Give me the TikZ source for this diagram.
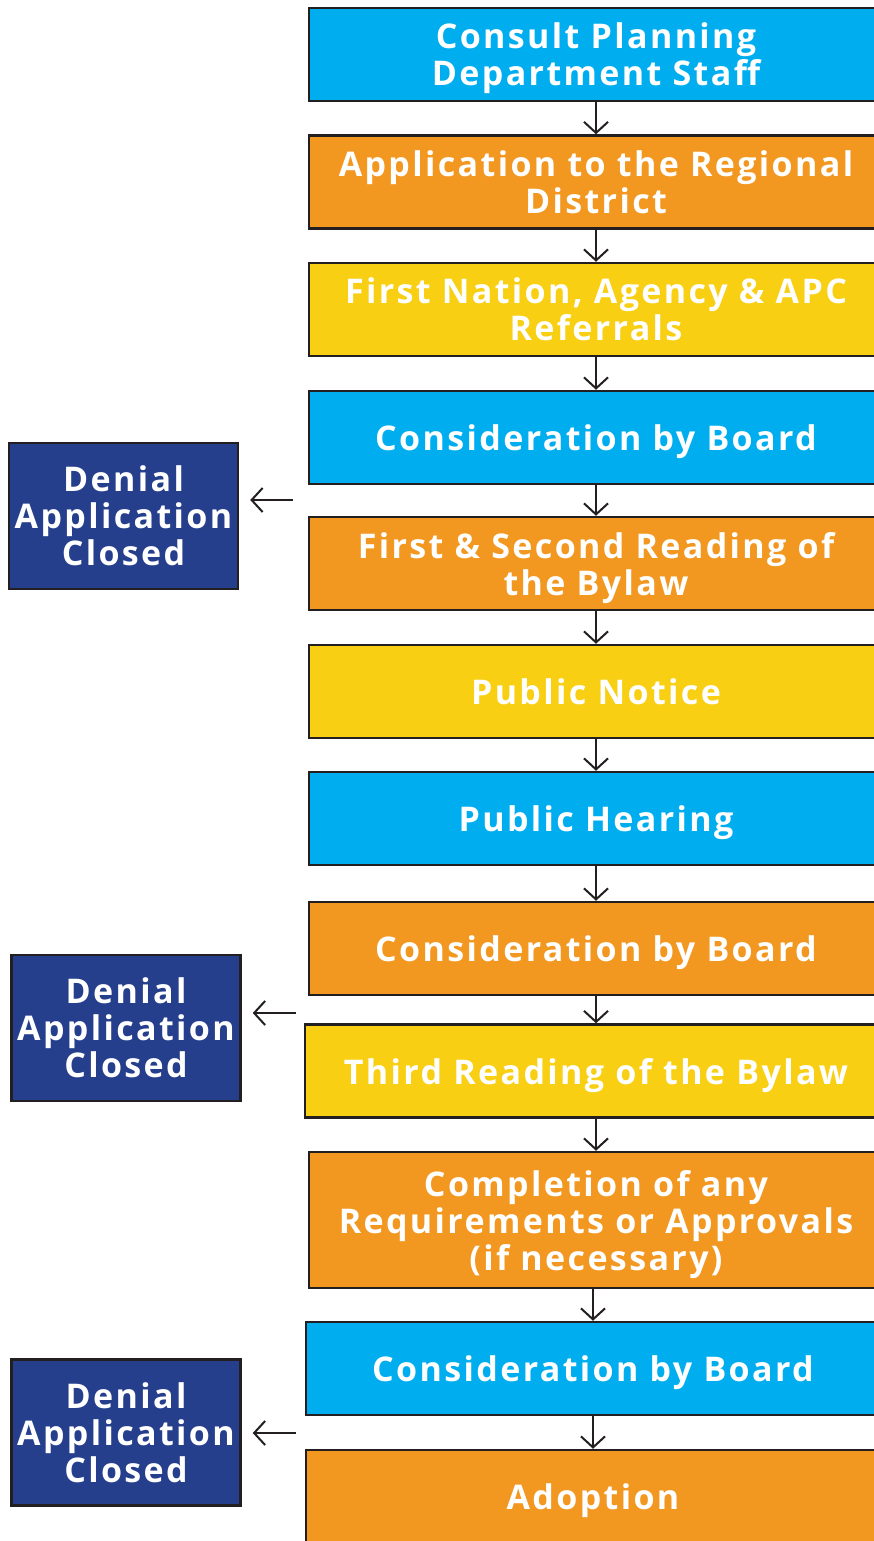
\documentclass[tikz,border=0pt]{standalone}
\usepackage{fontspec}
\setmainfont{Open Sans}[LetterSpace = 7]
\usetikzlibrary{arrows.meta}
\definecolor{skyblue}{HTML}{00AEEF}
\definecolor{tangerine}{HTML}{F29720}
\definecolor{sunflower}{HTML}{F8CF12}
\definecolor{navy}{HTML}{263F8C}
\definecolor{outline}{HTML}{231F20}

\begin{document}
\begin{tikzpicture}[x = 1pt, y = -1pt,
    stepbox/.style = {draw = outline, line width = 2.5pt, minimum width = 574pt, minimum height = 93pt,
        inner sep = 0pt, text depth = 0pt, align = center, text = white, font = \fontsize{34}{37}\selectfont\bfseries},
    denialbox/.style = {stepbox, fill = navy, minimum width = 229pt, minimum height = 146pt},
    flowarrow/.style = {draw = outline, line width = 2pt, -{Straight Barb[length = 11pt, width = 24pt]}}]
    \useasboundingbox (0,0) rectangle (874,1541);
    % main column
    \node[stepbox, fill = skyblue] (consult) at (596,54.5) {Consult Planning\\Department Staff};
    \node[stepbox, fill = tangerine] (apply) at (596,182) {Application to the Regional\\District};
    \node[stepbox, fill = sunflower] (referral) at (596,309.5) {First Nation, Agency \& APC\\Referrals};
    \node[stepbox, fill = skyblue] (boardA) at (596,437.5) {Consideration by Board};
    \node[stepbox, fill = tangerine] (reading) at (596,563.5) {First \& Second Reading of\\the Bylaw};
    \node[stepbox, fill = sunflower] (notice) at (596,691.5) {Public Notice};
    \node[stepbox, fill = skyblue] (hearing) at (596,818.5) {Public Hearing};
    \node[stepbox, fill = tangerine] (boardB) at (596,948.5) {Consideration by Board};
    \node[stepbox, fill = sunflower, minimum width = 582pt] (third) at (596,1071) {Third Reading of the Bylaw};
    \node[stepbox, fill = tangerine, minimum height = 136pt] (completion) at (596,1220) {Completion of any\\Requirements or Approvals\\(if necessary)};
    \node[stepbox, fill = skyblue] (boardC) at (593,1368.5) {Consideration by Board};
    \node[stepbox, fill = tangerine] (adoption) at (593,1496.5) {Adoption};
    % denials
    \node[denialbox] (denialA) at (123.5,516) {Denial\\Application\\Closed};
    \node[denialbox] (denialB) at (126,1028) {Denial\\Application\\Closed};
    \node[denialbox] (denialC) at (126,1432.5) {Denial\\Application\\Closed};
    \coordinate (backA) at (293,500);
    \coordinate (backB) at (296,1013);
    \coordinate (backC) at (296,1433);

    \draw[flowarrow] (consult.south -| apply.north) -- (apply.north);
    \draw[flowarrow] (apply.south -| referral.north) -- (referral.north);
    \draw[flowarrow] (referral.south -| boardA.north) -- (boardA.north);
    \draw[flowarrow] (boardA.south -| reading.north) -- (reading.north);
    \draw[flowarrow] (reading.south -| notice.north) -- (notice.north);
    \draw[flowarrow] (notice.south -| hearing.north) -- (hearing.north);
    \draw[flowarrow] (hearing.south -| boardB.north) -- (boardB.north);
    \draw[flowarrow] (boardB.south -| third.north) -- (third.north);
    \draw[flowarrow] (third.south -| completion.north) -- (completion.north);
    \draw[flowarrow] (completion.south -| boardC.north) -- (boardC.north);
    \draw[flowarrow] (boardC.south -| adoption.north) -- (adoption.north);
    \draw[flowarrow, shorten > = 11pt] (backA) -- (backA -| denialA.east);
    \draw[flowarrow, shorten > = 11pt] (backB) -- (backB -| denialB.east);
    \draw[flowarrow, shorten > = 11pt] (backC) -- (backC -| denialC.east);
\end{tikzpicture}
\end{document}
